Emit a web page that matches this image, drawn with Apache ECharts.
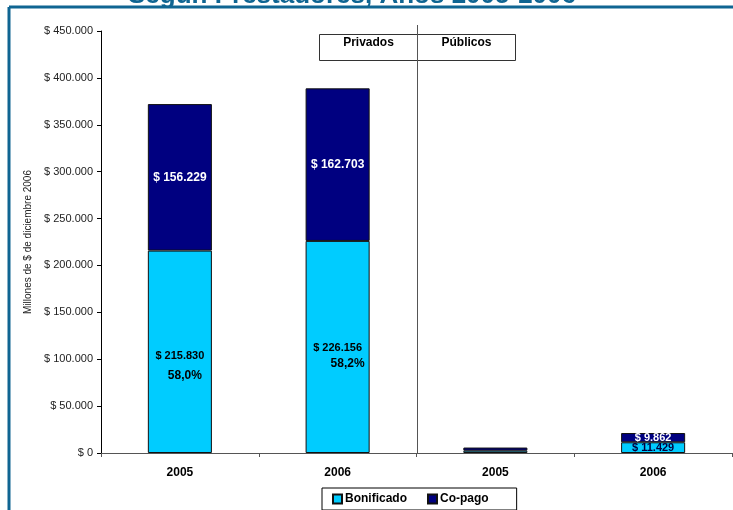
<!DOCTYPE html>
<html>
<head>
<meta charset="utf-8">
<script src="https://cdn.jsdelivr.net/npm/echarts@6/dist/echarts.min.js"></script>
<style>
  html, body { margin: 0; padding: 0; background: #fff; }
  #main { width: 733px; height: 510px; }
</style>
</head>
<body>
<div id="main"></div>
<script>
  // datos
  const categories = ['2005', '2006', '2005', '2006'];
  const bonificado = [215830, 226156, 2500, 11429];
  const copago = [156229, 162703, 3300, 9862];
  const bonifPct = ['58,0%', '58,2%', '', ''];
  const groups = ['Privados', 'Públicos'];
  const yTicks = { min: 0, max: 450000, interval: 50000 };

  const chart = echarts.init(document.getElementById('main'));
  const font = 'Arial, "Liberation Sans", sans-serif';
  const frameColor = '#0f6592';

  function fmt(v) {
    return '$ ' + String(v).replace(/\B(?=(\d{3})+(?!\d))/g, '.');
  }

  // estilos de etiquetas por barra (como en la planilla original)
  const bonifLabels = [
    { show: true, position: 'inside', offset: [0, 12] },
    { show: true, position: 'inside', offset: [0, 9] },
    { show: false },
    { show: true, position: 'inside', offset: [0, 0], fontSize: 11, color: '#000040' }
  ];
  const copagoLabels = [
    { show: true, position: 'inside', offset: [0, 0], color: '#fff', fontSize: 12 },
    { show: true, position: 'inside', offset: [0, 0], color: '#fff', fontSize: 12 },
    { show: false },
    { show: true, position: 'inside', offset: [0, 0], color: '#fff', fontSize: 11 }
  ];

  const bonifData = bonificado.map(function (v, i) {
    const lab = Object.assign({ fontWeight: 'bold', fontFamily: font }, bonifLabels[i]);
    if (bonifPct[i]) {
      lab.formatter = '{a|' + fmt(v) + '}\n{b|' + bonifPct[i] + '}';
      lab.rich = {
        a: { fontSize: 11, fontWeight: 'bold', color: '#000', fontFamily: font, lineHeight: i === 0 ? 24 : 16 },
        b: { fontSize: 12, fontWeight: 'bold', color: '#000', fontFamily: font, lineHeight: 16, padding: [0, 0, 0, i === 0 ? 10 : 20] }
      };
    } else {
      lab.formatter = fmt(v);
    }
    return { value: v, label: lab };
  });
  const copagoData = copago.map(function (v, i) {
    return { value: v, label: Object.assign({ fontWeight: 'bold', fontFamily: font, formatter: fmt(v) }, copagoLabels[i]) };
  });

  const option = {
    animation: false,
    textStyle: { fontFamily: font },
    grid: { left: 101, right: 1, top: 31, bottom: 57 },
    legend: {
      data: ['Bonificado', 'Co-pago'],
      bottom: 0,
      left: 322,
      itemWidth: 9,
      itemHeight: 9,
      itemGap: 20,
      padding: [5, 28, 5, 10],
      borderColor: '#000',
      borderWidth: 1,
      textStyle: { fontSize: 12, fontWeight: 'bold', color: '#000', padding: [0, 0, 0, -2] },
      icon: 'rect'
    },
    xAxis: {
      type: 'category',
      data: categories,
      axisLine: { lineStyle: { color: '#555', width: 1 } },
      axisTick: { show: true, alignWithLabel: false, length: 4, lineStyle: { color: '#555' } },
      axisLabel: { fontSize: 12, fontWeight: 'bold', color: '#000', margin: 14 }
    },
    yAxis: {
      type: 'value',
      min: yTicks.min,
      max: yTicks.max,
      interval: yTicks.interval,
      name: 'Millones de $ de diciembre 2006',
      nameLocation: 'middle',
      nameGap: 64,
      nameTextStyle: { fontSize: 10, color: '#222' },
      axisLine: { show: true, lineStyle: { color: '#000' } },
      axisTick: { show: true, length: 4, lineStyle: { color: '#000' } },
      splitLine: { show: false },
      axisLabel: { fontSize: 11, color: '#222', margin: 8, formatter: fmt }
    },
    series: [
      {
        name: 'Bonificado',
        type: 'bar',
        stack: 'total',
        barWidth: '40.6%',
        itemStyle: { color: '#00ccff', borderColor: '#111', borderWidth: 1 },
        data: bonifData
      },
      {
        name: 'Co-pago',
        type: 'bar',
        stack: 'total',
        barWidth: '40.6%',
        itemStyle: { color: '#000080', borderColor: '#111', borderWidth: 1 },
        data: copagoData
      }
    ]
  };

  chart.setOption(option);

  // separador Privados / Publicos y recuadros
  const x1 = chart.convertToPixel({ xAxisIndex: 0 }, 1);
  const x2 = chart.convertToPixel({ xAxisIndex: 0 }, 2);
  const xDiv = Math.round((x1 + x2) / 2) + 0.5;
  const y0 = chart.convertToPixel({ yAxisIndex: 0 }, 0);
  const boxW = 98;

  chart.setOption({
    graphic: [
      {
        type: 'text', left: 128, top: -17,
        style: { text: 'Según Prestadores, Años 2005-2006', font: 'bold 26px ' + font, fill: frameColor }
      },
      { type: 'line', shape: { x1: 9, y1: 7, x2: 733, y2: 7 }, style: { stroke: frameColor, lineWidth: 3 }, z: 5 },
      { type: 'line', shape: { x1: 9, y1: 7, x2: 9, y2: 510 }, style: { stroke: frameColor, lineWidth: 3 }, z: 5 },
      { type: 'line', shape: { x1: xDiv, y1: 25, x2: xDiv, y2: y0 }, style: { stroke: '#555', lineWidth: 1 }, z: 10 },
      { type: 'rect', shape: { x: xDiv - boxW, y: 34.5, width: boxW * 2, height: 26 }, style: { fill: '#fff', stroke: '#333', lineWidth: 1 }, z: 9 },
      {
        type: 'text', x: xDiv - boxW / 2, y: 43,
        style: { text: groups[0], font: 'bold 12px ' + font, fill: '#000', align: 'center', verticalAlign: 'middle' }, z: 11
      },
      {
        type: 'text', x: xDiv + boxW / 2, y: 43,
        style: { text: groups[1], font: 'bold 12px ' + font, fill: '#000', align: 'center', verticalAlign: 'middle' }, z: 11
      }
    ]
  });

  window.addEventListener('resize', function () {
    chart.resize();
  });
</script>
</body>
</html>
